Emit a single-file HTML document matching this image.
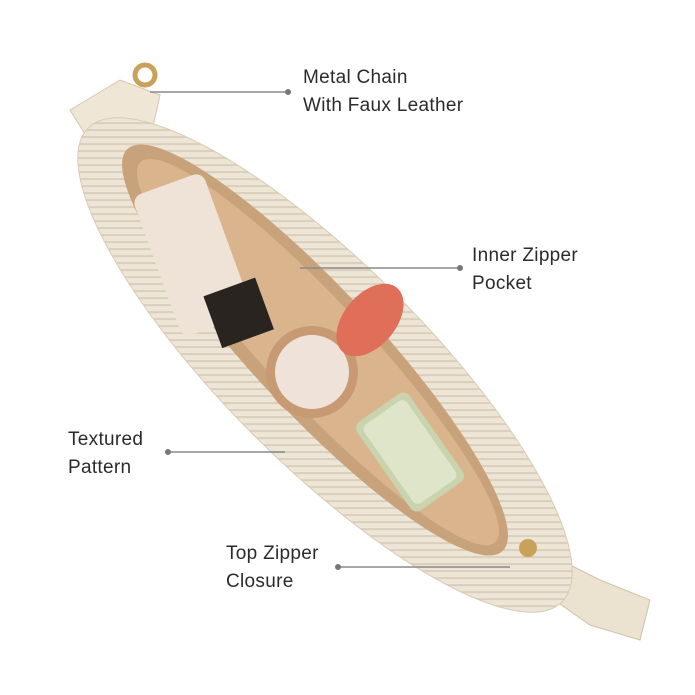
<!DOCTYPE html>
<html><head><meta charset="utf-8"><style>
html,body{margin:0;padding:0;background:#fff;}
.wrap{position:relative;width:695px;height:695px;overflow:hidden;background:#fff;font-family:"Liberation Sans",sans-serif;}
.lbl{position:absolute;font-size:19px;line-height:28px;color:#2b2b2b;letter-spacing:0.3px;}
</style></head><body><div class="wrap">
<svg width="695" height="695" style="position:absolute;left:0;top:0">
<defs>
<pattern id="st" width="7" height="7" patternUnits="userSpaceOnUse" patternTransform="rotate(45)">
<rect width="7" height="7" fill="#ede5d6"/><rect width="2" height="7" fill="#dbcfbb"/>
</pattern>
</defs>
<path d="M520,540 L600,580 L650,600 L640,640 L590,625 L540,590 Z" fill="#ece2d0" stroke="#cfc2ab"/>
<path d="M70,110 L120,80 L160,95 L150,140 L95,150 Z" fill="#efe6d6" stroke="#d2c6b0"/>
<circle cx="145" cy="75" r="10" fill="none" stroke="#c9a25a" stroke-width="5"/>
<ellipse cx="325" cy="365" rx="335" ry="100" transform="rotate(45 325 365)" fill="url(#st)" stroke="#d8ccb7"/>
<ellipse cx="315" cy="350" rx="275" ry="62" transform="rotate(47 315 350)" fill="#c8a27a"/>
<ellipse cx="318" cy="352" rx="260" ry="50" transform="rotate(47 318 352)" fill="#d9b48c"/>
<rect x="155" y="180" width="75" height="150" rx="10" fill="#efe2d6" transform="rotate(-20 192 255)"/>
<rect x="212" y="285" width="55" height="55" fill="#2a2420" transform="rotate(-20 240 315)"/>
<circle cx="312" cy="372" r="46" fill="#c79a74"/>
<circle cx="312" cy="372" r="37" fill="#efe2d8"/>
<ellipse cx="370" cy="320" rx="26" ry="42" fill="#e06f5a" transform="rotate(40 370 320)"/>
<rect x="378" y="398" width="64" height="108" rx="8" fill="#c9d3ae" transform="rotate(-35 410 452)"/>
<rect x="384" y="404" width="52" height="96" rx="6" fill="#dfe5c9" transform="rotate(-35 410 452)"/>
<circle cx="528" cy="548" r="9" fill="#c9a25a"/>
<g stroke="#8a8a8a" stroke-width="1.5">
<line x1="150" y1="92" x2="288" y2="92"/>
<line x1="300" y1="268" x2="460" y2="268"/>
<line x1="168" y1="452" x2="285" y2="452"/>
<line x1="338" y1="567" x2="510" y2="567"/>
</g>
<g fill="#777"><circle cx="288" cy="92" r="3"/><circle cx="460" cy="268" r="3"/><circle cx="168" cy="452" r="3"/><circle cx="338" cy="567" r="3"/></g>
</svg>
<div class="lbl" style="left:303px;top:64px">Metal Chain<br>With Faux Leather</div>
<div class="lbl" style="left:472px;top:242px">Inner Zipper<br>Pocket</div>
<div class="lbl" style="left:68px;top:426px">Textured<br>Pattern</div>
<div class="lbl" style="left:226px;top:540px">Top Zipper<br>Closure</div>
</div></body></html>
